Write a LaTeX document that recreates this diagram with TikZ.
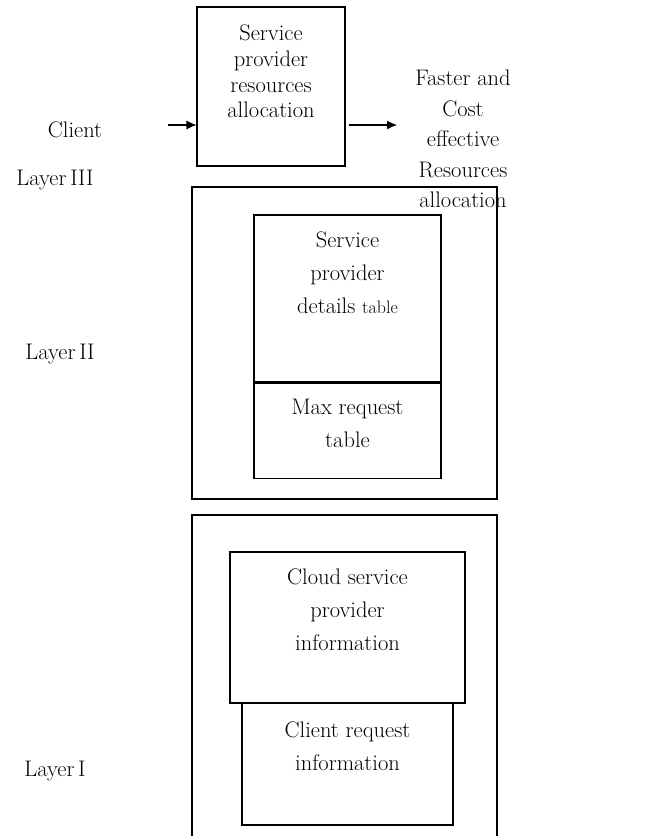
\documentclass[tikz,border=0pt]{standalone}
\usepackage{tikz}
\usetikzlibrary{positioning,arrows.meta}

\tikzset{
  box/.style={draw, line width=1.1pt, rectangle, inner sep=0pt},
  txt/.style={align=center, inner sep=0pt, font=\fontsize{22.5}{33}\selectfont},
  flow/.style={line width=1.1pt, -{Latex[length=10pt,width=9pt]}}
}

\begin{document}
\begin{tikzpicture}[x=1pt,y=-1pt]
\useasboundingbox (0,0) rectangle (658,836);
\clip (0,0) rectangle (658,836);
\node[box, minimum width=148pt, minimum height=159pt] (alloc) at (271,86.5) {};
\node[txt, font=\fontsize{22.5}{25.7}\selectfont] (alloctxt) at (271,71.5) {Service\\provider\\resources\\allocation};
\node[txt] (client) at (75,130) {Client};
\coordinate (in) at (168,125);
\coordinate (out) at (397,125);
\draw[flow] (in) -- (in -| alloc.west);
\draw[flow] ([xshift=3pt]out -| alloc.east) -- (out);
\node[txt, font=\fontsize{22.5}{30.5}\selectfont] (result) at (463,139) {Faster and\\Cost\\effective\\Resources\\allocation};
\node[txt] (layer3) at (55,180) {Layer\,III};
\node[box, minimum width=305pt, minimum height=312pt] (layer2box) at (344.5,343) {};
\node[box, minimum width=187pt, minimum height=167pt] (details) at (347.5,298.5) {};
\node[box, minimum width=187pt, minimum height=95pt, below=0pt of details] (maxreq) {};
\node[txt] (detailstxt) at (347.5,273) {Service\\provider\\details {\fontsize{18}{18}\selectfont table}};
\node[txt] (maxreqtxt) at (347.5,423.5) {Max request\\table};
\node[txt] (layer2) at (60,354) {Layer\,II};
\node[box, minimum width=305pt, minimum height=340pt] (layer1box) at (344.5,685) {};
\node[box, minimum width=211pt, minimum height=122pt] (request) at (347.5,764) {};
\node[box, minimum width=235pt, minimum height=151pt, fill=white] (cloud) at (347.5,627.5) {};
\node[txt] (cloudtxt) at (347.5,610) {Cloud service\\provider\\information};
\node[txt] (requesttxt) at (347.5,746.5) {Client request\\information};
\node[txt] (layer1) at (55,771) {Layer\,I};
\end{tikzpicture}
\end{document}
